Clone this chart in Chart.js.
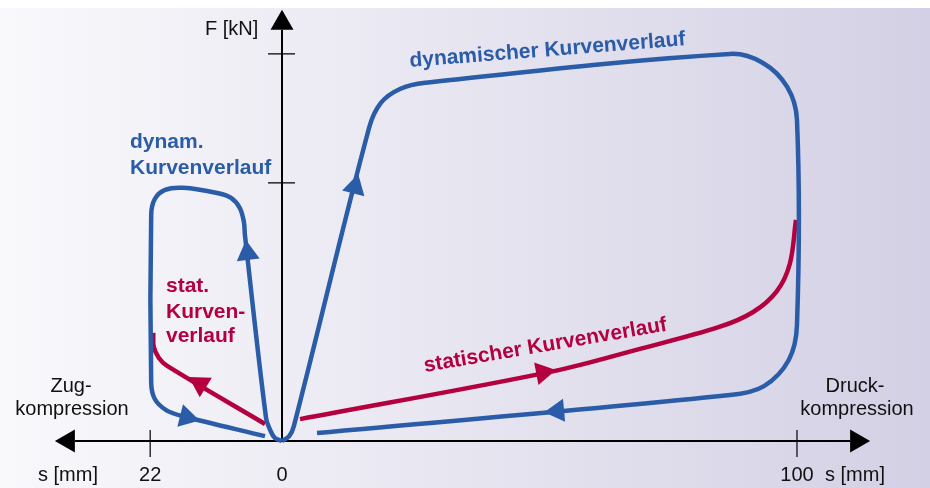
<!DOCTYPE html>
<html>
<head>
<meta charset="utf-8">
<script src="https://cdn.jsdelivr.net/npm/chart.js"></script>
<style>
  html, body { margin: 0; padding: 0; background: #fff; }
  #wrap { width: 930px; height: 488px; }
</style>
</head>
<body>
<div id="wrap"><canvas id="chart" width="930" height="488"></canvas></div>
<script>
// Weg s (rechts in mm, links gestaucht gezeichnet) und Kraft F (relative Einheit)
const dynDruckX = [0, 1.4, 2.3, 16.9, 19.2, 22.9, 27.8, 87.0, 93.4, 98.1, 100, 100, 98.4, 93.6, 87.0, 6.8];
const dynDruckY = [0, 1.9, 5.8, 121.3, 131.0, 136.4, 138.8, 150.0, 146.5, 137.2, 124.4, 45.0, 31.4, 21.3, 17.8, 3.1];

const statDruckX = [3.5, 52.8, 69.5, 84.9, 91.5, 96.1, 98.6, 99.8];
const statDruckY = [8.5, 27.1, 35.7, 44.2, 50.0, 58.1, 68.6, 85.7];

const dynZugX = [0, -1.4, -2.3, -3.1, -7.2, -7.4, -8.2, -9.9, -12.6, -19.2, -22.7, -24.7, -25.4, -25.4, -24.7, -22.5, -19.4, -3.3];
const dynZugY = [0, 1.2, 4.3, 8.9, 79.8, 84.9, 90.3, 94.2, 96.1, 98.1, 97.3, 93.8, 87.6, 22.5, 16.3, 12.0, 9.7, 1.9];

const statZugX = [-3.3, -22.3, -23.9, -24.9, -25.0];
const statZugY = [6.6, 29.1, 32.2, 36.4, 41.9];

// Pfeilspitzen: Spitze und Punkt, aus dem die Richtung kommt
const arrowTipX  = [14.8, 53.2, 50.9, -7.0, -18.1, -16.0];
const arrowTipY  = [103.5, 27.5, 11.2, 77.9, 24.8, 8.0];
const arrowFromX = [2.3, 3.5, 87.0, -3.1, -3.3, -19.4];
const arrowFromY = [5.8, 8.5, 17.8, 8.9, 6.6, 9.7];
const arrowSeries = ['dyn', 'stat', 'dyn', 'dyn', 'stat', 'dyn'];

const xTicks = [-25.6, 0, 100];
const xTickLabels = ['22', '0', '100'];
const yTicks = [100, 150];

const BLUE = '#2a5ca8';
const RED = '#b5003f';
const FONT = '"Liberation Sans", Arial, Helvetica, sans-serif';

function pts(xs, ys) {
  return xs.map((x, i) => ({ x: x, y: ys[i] }));
}

function arrowHead(ctx, tx, ty, fx, fy, color) {
  const ang = Math.atan2(ty - fy, tx - fx);
  const len = 20, half = 11.5;
  ctx.save();
  ctx.translate(tx, ty);
  ctx.rotate(ang);
  ctx.fillStyle = color;
  ctx.beginPath();
  ctx.moveTo(0, 0);
  ctx.lineTo(-len, -half);
  ctx.lineTo(-len, half);
  ctx.closePath();
  ctx.fill();
  ctx.restore();
}

const diagramPlugin = {
  id: 'diagram',
  beforeDraw(chart) {
    const ctx = chart.ctx;
    ctx.save();
    ctx.fillStyle = '#ffffff';
    ctx.fillRect(0, 0, chart.width, chart.height);
    const g = ctx.createLinearGradient(0, 0, chart.width, 0);
    g.addColorStop(0, '#f9f9fc');
    g.addColorStop(0.5, '#e7e5f0');
    g.addColorStop(1, '#d3d0e5');
    ctx.fillStyle = g;
    ctx.fillRect(0, 8, chart.width, chart.height - 8);
    ctx.restore();
  },
  beforeDatasetsDraw(chart) {
    const ctx = chart.ctx;
    const xs = chart.scales.x, ys = chart.scales.y;
    const x0 = xs.getPixelForValue(0), y0 = ys.getPixelForValue(0);
    const xl = xs.getPixelForValue(-44.1), xr = xs.getPixelForValue(114.2);
    const yt = ys.getPixelForValue(167.1);

    ctx.save();
    ctx.strokeStyle = '#000';
    ctx.fillStyle = '#000';
    ctx.lineWidth = 2;
    ctx.beginPath();
    ctx.moveTo(xl + 20, y0); ctx.lineTo(xr - 20, y0);
    ctx.moveTo(x0, y0); ctx.lineTo(x0, yt + 20);
    ctx.stroke();
    arrowHead(ctx, xl, y0, xl + 10, y0, '#000');
    arrowHead(ctx, xr, y0, xr - 10, y0, '#000');
    arrowHead(ctx, x0, yt, x0, yt + 10, '#000');

    ctx.lineWidth = 1.2;
    ctx.beginPath();
    xTicks.forEach(v => {
      if (v === 0) return;
      const px = xs.getPixelForValue(v);
      ctx.moveTo(px, y0 - 11); ctx.lineTo(px, y0 + 16);
    });
    yTicks.forEach(v => {
      const py = ys.getPixelForValue(v);
      ctx.moveTo(x0 - 14, py); ctx.lineTo(x0 + 13, py);
    });
    ctx.stroke();

    ctx.font = '20px ' + FONT;
    ctx.fillStyle = '#111';
    ctx.textAlign = 'center';
    ctx.textBaseline = 'alphabetic';
    xTicks.forEach((v, i) => {
      ctx.fillText(xTickLabels[i], xs.getPixelForValue(v), 481);
    });
    ctx.textAlign = 'left';
    ctx.fillText('s [mm]', 38, 481);
    ctx.fillText('s [mm]', 825, 481);
    ctx.fillText('F [kN]', 205, 35);
    ctx.textAlign = 'center';
    ctx.fillText('Zug-', 71, 392);
    ctx.fillText('kompression', 72, 415);
    ctx.fillText('Druck-', 855, 392);
    ctx.fillText('kompression', 857, 415);
    ctx.restore();
  },
  afterDatasetsDraw(chart) {
    const ctx = chart.ctx;
    const xs = chart.scales.x, ys = chart.scales.y;
    arrowTipX.forEach((tx, i) => {
      arrowHead(ctx,
        xs.getPixelForValue(tx), ys.getPixelForValue(arrowTipY[i]),
        xs.getPixelForValue(arrowFromX[i]), ys.getPixelForValue(arrowFromY[i]),
        arrowSeries[i] === 'dyn' ? BLUE : RED);
    });

    ctx.save();
    ctx.font = 'bold 21px ' + FONT;
    ctx.textAlign = 'left';
    ctx.textBaseline = 'alphabetic';
    ctx.fillStyle = BLUE;
    ctx.fillText('dynam.', 130, 148);
    ctx.fillText('Kurvenverlauf', 130, 174);
    ctx.save();
    ctx.translate(410, 67);
    ctx.rotate(-4.5 * Math.PI / 180);
    ctx.fillText('dynamischer Kurvenverlauf', 0, 0);
    ctx.restore();

    ctx.fillStyle = RED;
    ctx.fillText('stat.', 166, 292);
    ctx.fillText('Kurven-', 166, 318);
    ctx.fillText('verlauf', 166, 342);
    ctx.save();
    ctx.translate(425, 372);
    ctx.rotate(-9.7 * Math.PI / 180);
    ctx.fillText('statischer Kurvenverlauf', 0, 0);
    ctx.restore();
    ctx.restore();
  }
};

function lineSet(label, data, color) {
  return {
    label: label,
    data: data,
    borderColor: color,
    borderWidth: 4.5,
    pointRadius: 0,
    tension: 0.35,
    fill: false,
    borderCapStyle: 'butt',
    borderJoinStyle: 'round',
    clip: false
  };
}

new Chart(document.getElementById('chart'), {
  type: 'line',
  data: {
    datasets: [
      lineSet('dynamischer Kurvenverlauf', pts(dynDruckX, dynDruckY), BLUE),
      lineSet('dynam. Kurvenverlauf', pts(dynZugX, dynZugY), BLUE),
      lineSet('statischer Kurvenverlauf', pts(statDruckX, statDruckY), RED),
      lineSet('stat. Kurvenverlauf', pts(statZugX, statZugY), RED)
    ]
  },
  options: {
    responsive: false,
    animation: false,
    layout: { padding: 0 },
    plugins: { legend: { display: false }, tooltip: { enabled: false }, title: { display: false } },
    scales: {
      x: { type: 'linear', min: -54.76, max: 125.83, display: false },
      y: { type: 'linear', min: -18.2, max: 170.9, display: false }
    }
  },
  plugins: [diagramPlugin]
});
</script>
</body>
</html>
